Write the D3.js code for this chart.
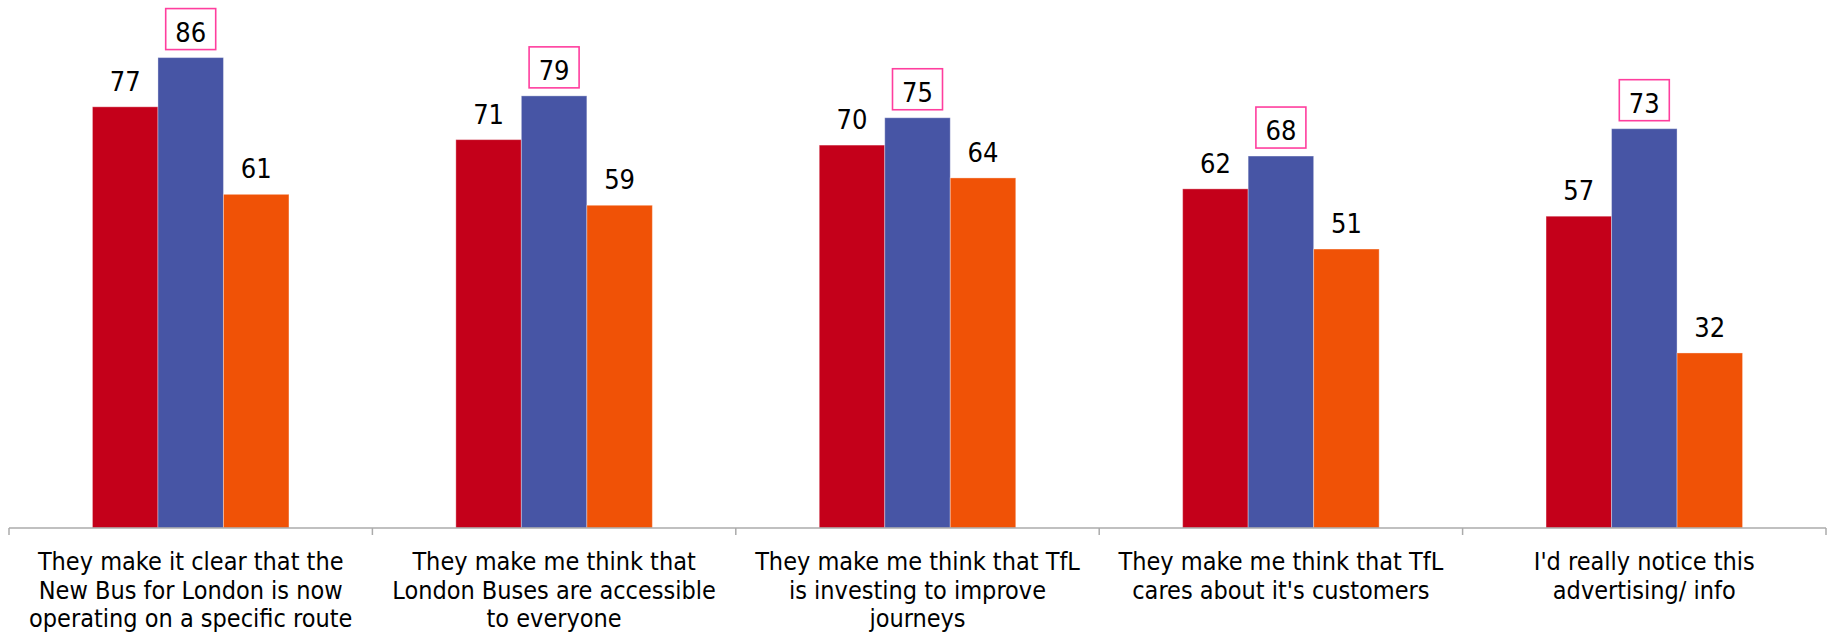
<!DOCTYPE html>
<html>
<head>
<meta charset="utf-8">
<script src="https://cdn.jsdelivr.net/npm/d3@7/dist/d3.min.js"></script>
<style>
  html, body { margin: 0; padding: 0; background: #fff; }
  svg text { font-family: "DejaVu Sans Condensed", "DejaVu Sans", sans-serif; font-stretch: condensed; }
</style>
</head>
<body>
<svg id="chart" width="1827" height="633"></svg>
<script>
const categories = [
  ["They make it clear that the", "New Bus for London is now", "operating on a specific route"],
  ["They make me think that", "London Buses are accessible", "to everyone"],
  ["They make me think that TfL", "is investing to improve", "journeys"],
  ["They make me think that TfL", "cares about it's customers"],
  ["I'd really notice this", "advertising/ info"]
];
const seriesNames = ["Series A", "Series B", "Series C"];
const seriesA = [77, 71, 70, 62, 57];
const seriesB = [86, 79, 75, 68, 73];
const seriesC = [61, 59, 64, 51, 32];
const seriesColors = ["#C4001A", "#4755A5", "#F05206"];

const svg = d3.select("#chart");
const axisY = 528;
const x0 = d3.scaleBand().domain(d3.range(categories.length)).range([9, 1826]).padding(0);
const x1 = d3.scaleBand().domain(seriesNames).range([0, x0.bandwidth()]).paddingInner(0).paddingOuter(1.274);
const y = d3.scaleLinear().domain([0, 100]).range([axisY, axisY - 547]);

const allSeries = [seriesA, seriesB, seriesC];
const data = [];
categories.forEach((c, i) => {
  const vals = allSeries.map(s => s[i]);
  const maxV = d3.max(vals);
  allSeries.forEach((s, j) => data.push({ cat: i, series: seriesNames[j], color: seriesColors[j], value: s[i], isMax: s[i] === maxV }));
});

// bars
svg.append("g").selectAll("rect").data(data).join("rect")
  .attr("x", d => x0(d.cat) + x1(d.series))
  .attr("y", d => y(d.value))
  .attr("width", x1.bandwidth())
  .attr("height", d => y(0) - y(d.value))
  .attr("fill", d => d.color)
  .attr("stroke", "rgba(255,255,255,0.35)")
  .attr("stroke-width", 1);

// axis
const ax = svg.append("g");
ax.append("line").attr("x1", x0.range()[0]).attr("x2", x0.range()[1])
  .attr("y1", axisY).attr("y2", axisY).attr("stroke", "#ABABAB").attr("stroke-width", 1.5);
const tickPos = d3.range(categories.length).map(i => x0(i)).concat([x0.range()[1]]);
ax.selectAll("line.tick").data(tickPos).join("line").attr("class", "tick")
  .attr("x1", d => d).attr("x2", d => d).attr("y1", axisY).attr("y2", axisY + 7)
  .attr("stroke", "#ABABAB").attr("stroke-width", 1.5);

// category labels
const lbl = svg.append("g").selectAll("text").data(categories).join("text")
  .attr("text-anchor", "middle")
  .attr("font-size", 25)
  .attr("fill", "#000");
lbl.each(function(lines, i) {
  const t = d3.select(this);
  lines.forEach((ln, k) => {
    t.append("tspan").attr("x", x0(i) + x0.bandwidth() / 2).attr("y", 570 + k * 28.6).text(ln);
  });
});

// value labels
const vg = svg.append("g");
data.forEach(d => {
  const cx = x0(d.cat) + x1(d.series) + x1.bandwidth() / 2;
  const by = y(d.value) - 16;
  const t = vg.append("text").attr("x", cx).attr("y", by)
    .attr("text-anchor", "middle").attr("font-size", 27).attr("fill", "#000").text(d.value);
  if (d.isMax) {
    const bb = t.node().getBBox();
    vg.insert("rect", "text")
      .attr("x", cx - 25).attr("y", by - 33)
      .attr("width", 50).attr("height", 41)
      .attr("fill", "#fff").attr("stroke", "#FF3E9E").attr("stroke-width", 1.6);
  }
});
</script>
</body>
</html>
